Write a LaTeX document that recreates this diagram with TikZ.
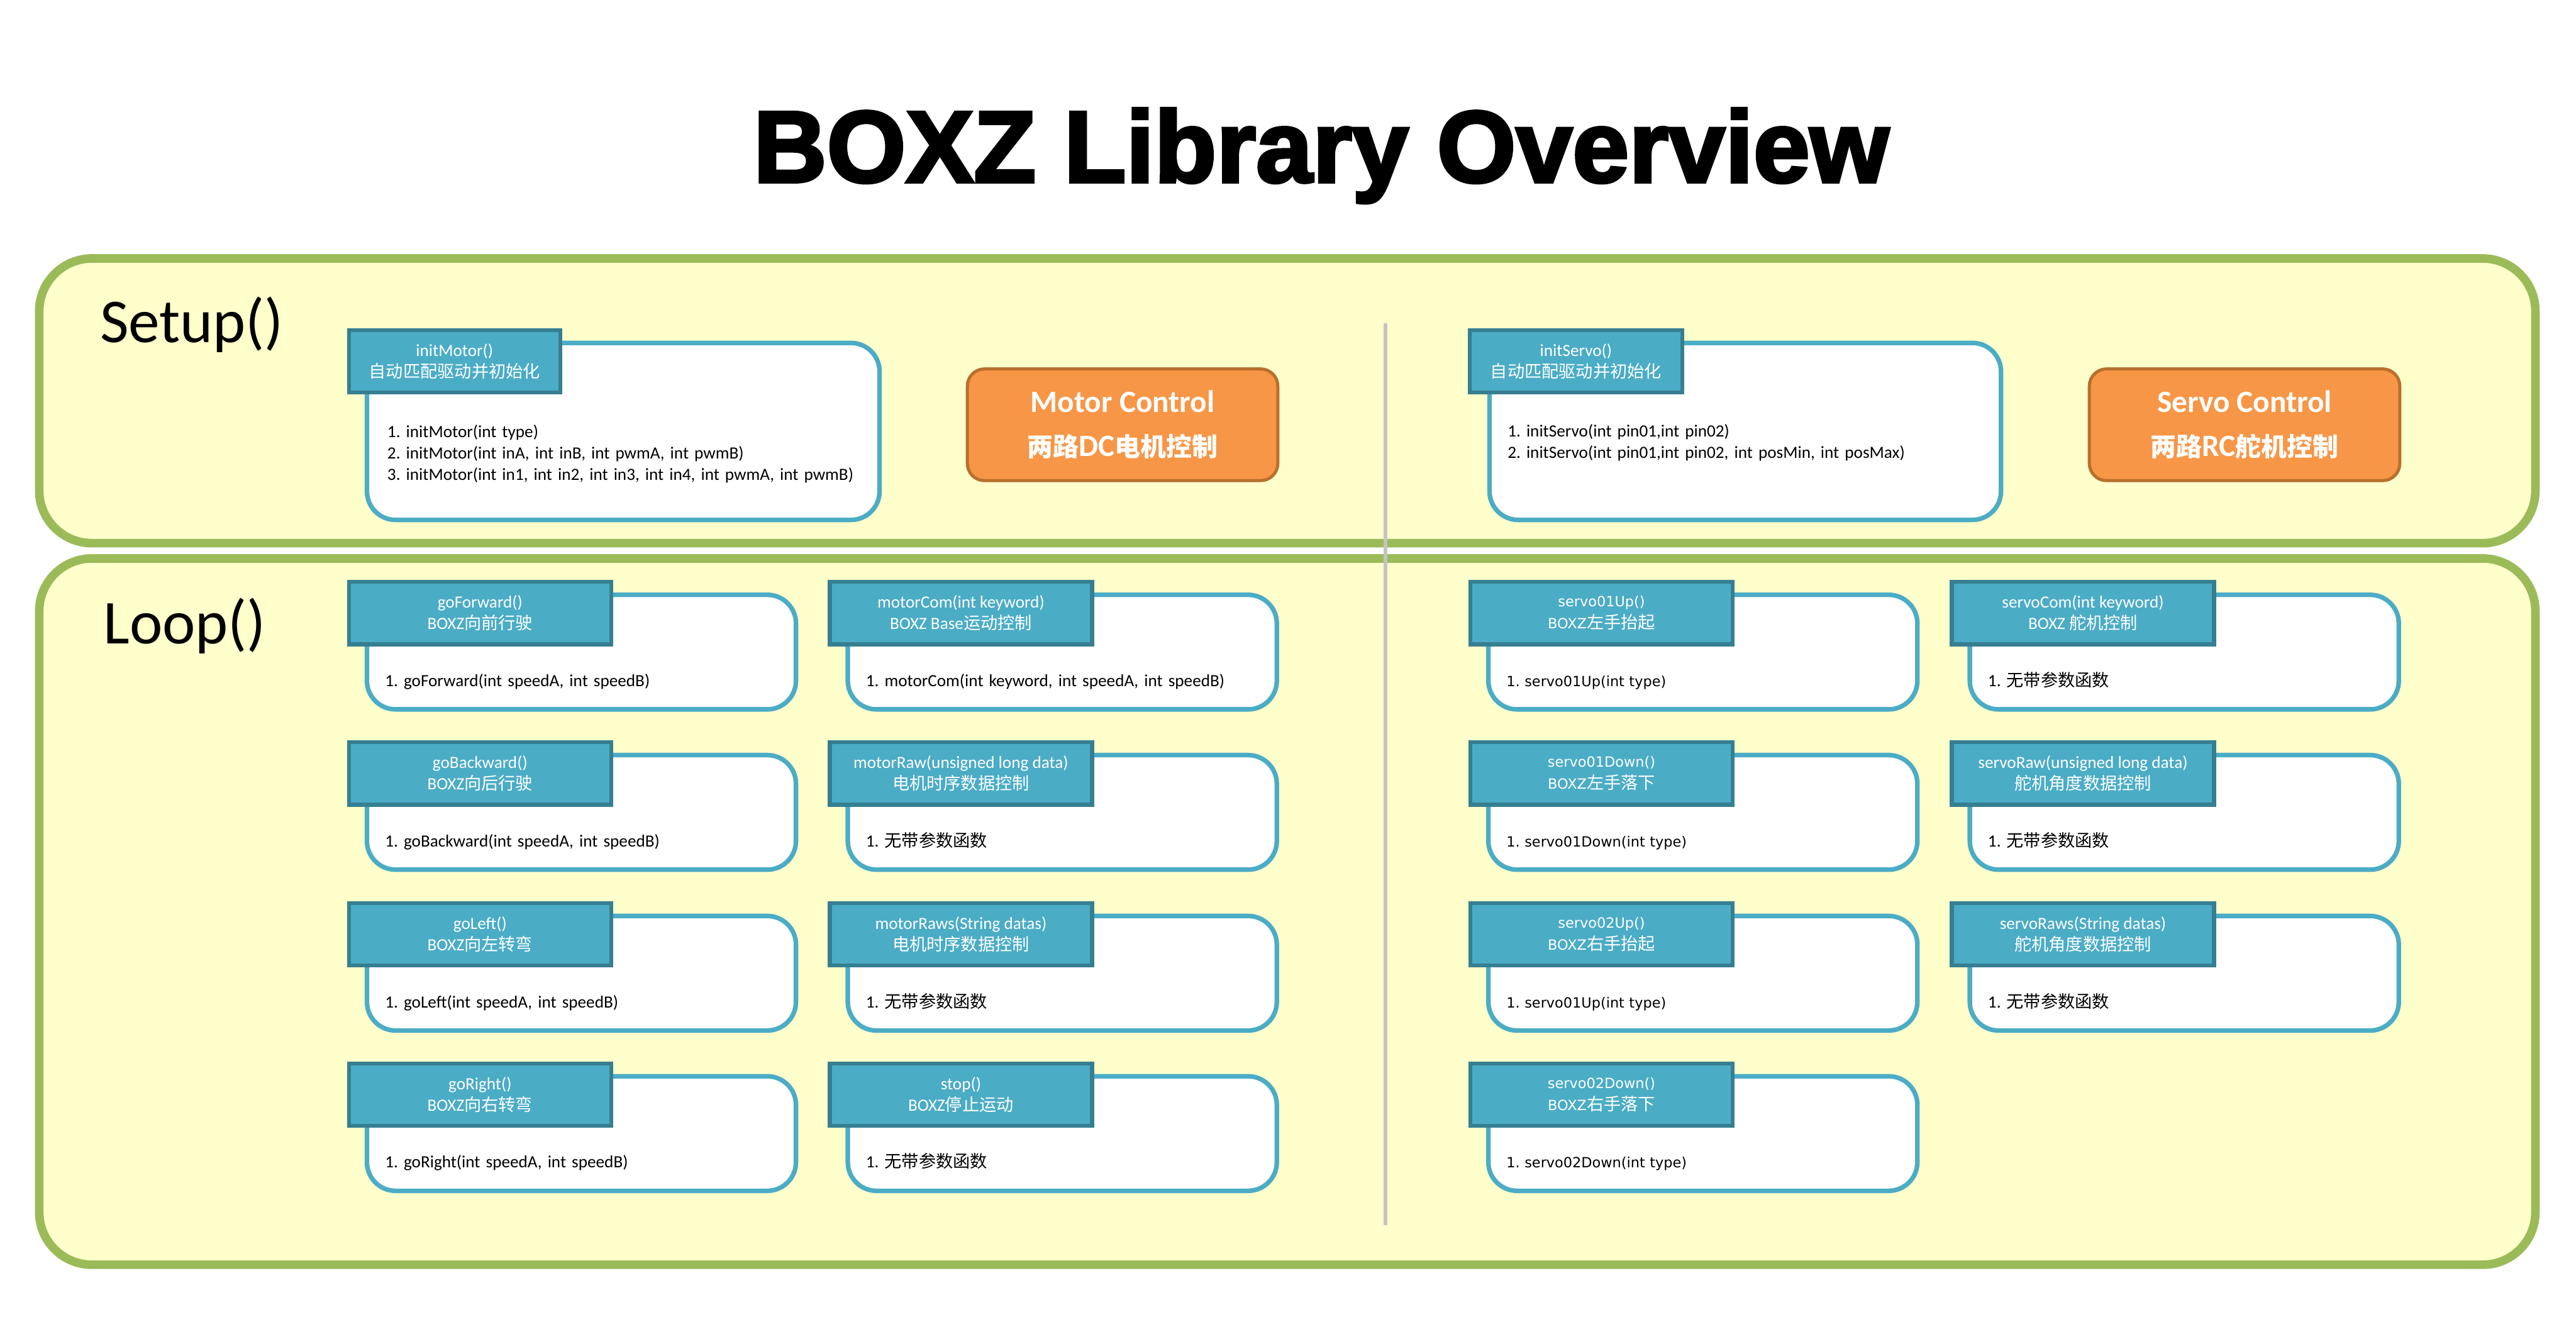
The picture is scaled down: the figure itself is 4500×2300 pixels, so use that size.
\documentclass[tikz,border=0pt]{standalone}
\usepackage{fontspec}
\setmainfont{Carlito}
\newfontfamily\cjk{Noto Sans CJK SC}
\newfontfamily\verd{DejaVu Sans}
\newfontfamily\titlefont{Liberation Sans}[BoldFeatures={FakeBold=3}]
\usetikzlibrary{positioning,calc}
\frenchspacing
\definecolor{panelfill}{HTML}{FFFFCC}
\definecolor{panelgreen}{HTML}{9BBB59}
\definecolor{headfill}{HTML}{4BACC6}
\definecolor{headline}{HTML}{357F91}
\definecolor{cardblue}{HTML}{4BACC6}
\definecolor{ctrlfill}{HTML}{F79646}
\definecolor{ctrlline}{HTML}{B8702E}
\definecolor{sepgray}{HTML}{C4C4C4}
\newcommand{\cn}[1]{{\cjk #1}}
\newcommand{\cnbig}[1]{{\cjk\fontsize{12.8}{22}\selectfont #1}}
\newcommand{\cnsm}[1]{{\cjk\fontsize{8.5}{11}\selectfont #1}}
% one function card of the loop part: name, header x, header y, header text, body text
\newcommand{\funccard}[6][]{%
  \node[card,anchor=north west] (#2) at (#3+31,#4+22) {};
  \node[head,#1,anchor=north west] (#2h) at (#3,#4) {#5};
  \node[body,#1,anchor=base west] (#2b) at (#3+66,#4+186) {#6};
}
\tikzset{
  panel/.style={draw=panelgreen,fill=panelfill,line width=0.15cm,rounded corners=0.92cm,minimum width=43.58cm,inner sep=0pt},
  card/.style={draw=cardblue,fill=white,line width=0.08cm,rounded corners=0.5cm,minimum width=7.49cm,minimum height=2cm,inner sep=0pt},
  head/.style={draw=headline,fill=headfill,line width=0.07cm,text=white,align=center,font=\fontsize{8.5}{10.6}\selectfont,
    minimum width=4.58cm,minimum height=1.09cm,inner sep=0pt},
  body/.style={text width=8.6cm,align=left,font=\fontsize{8.5}{10.6}\selectfont,inner sep=0pt},
  ctrl/.style={draw=ctrlline,fill=ctrlfill,line width=0.055cm,rounded corners=0.3cm,text=white,align=center,
    font=\bfseries\fontsize{15.4}{22}\selectfont,minimum width=5.42cm,minimum height=1.95cm},
  phase/.style={font=\fontsize{31}{37}\selectfont,anchor=base west,inner sep=0pt},
  wide/.style={font=\verd\fontsize{7}{11}\selectfont},
  sep/.style={draw=sepgray,line width=0.07cm},
}
\begin{document}
\begin{tikzpicture}[x=0.01cm,y=-0.01cm]
  \fill[white] (0,0) rectangle (4500,2300);
  \useasboundingbox (0,0) rectangle (4500,2300);
  % the two phases
  \node[panel,minimum height=4.97cm,anchor=north west] (setup) at (61,444) {};
  \node[panel,minimum height=12.33cm,anchor=north west] (loop) at (61,968) {};
  \coordinate (sepTop) at (2420,565);
  \coordinate (sepBot) at (2420,2140);
  \draw[sep] (sepTop) -- (sepBot);
  \node[font=\titlefont\bfseries\fontsize{50.5}{60}\selectfont,anchor=base,inner sep=0pt] (title) at (2308,318) {BOXZ Library Overview};
  \node[phase] (setupLbl) at (174,598) {Setup()};
  \node[phase] (loopLbl) at (180,1124) {Loop()};
  % setup
  \node[card,minimum width=8.95cm,minimum height=3.09cm,anchor=north west] (initMotor) at (637,595) {};
  \node[head,minimum width=3.69cm,anchor=north west] (initMotorh) at (606,573) {initMotor()\\\cn{自动匹配驱动并初始化}};
  \node[body,anchor=base west] (initMotorb) at (676,764) {1. initMotor(int type)\\2. initMotor(int inA, int inB, int pwmA, int pwmB)\\3. initMotor(int in1, int in2, int in3, int in4, int pwmA, int pwmB)};
  \node[card,minimum width=8.93cm,minimum height=3.09cm,anchor=north west] (initServo) at (2598,595) {};
  \node[head,minimum width=3.71cm,anchor=north west] (initServoh) at (2564,573) {initServo()\\\cn{自动匹配驱动并初始化}};
  \node[body,anchor=base west] (initServob) at (2633,763) {1. initServo(int pin01,int pin02)\\2. initServo(int pin01,int pin02, int posMin, int posMax)};
  \node[ctrl] (motorCtrl) at (1961,742) {Motor Control\\\cnbig{两路}DC\cnbig{电机控制}};
  \node[ctrl] (servoCtrl) at (3921,742) {Servo Control\\\cnbig{两路}RC\cnbig{舵机控制}};
  % loop, motor side
  \funccard{fwd}{606}{1013}{goForward()\\BOXZ\cn{向前行驶}}{1. goForward(int speedA, int speedB)}
  \funccard{bwd}{606}{1293}{goBackward()\\BOXZ\cn{向后行驶}}{1. goBackward(int speedA, int speedB)}
  \funccard{left}{606}{1574}{goLeft()\\BOXZ\cn{向左转弯}}{1. goLeft(int speedA, int speedB)}
  \funccard{right}{606}{1854}{goRight()\\BOXZ\cn{向右转弯}}{1. goRight(int speedA, int speedB)}
  \funccard{mcom}{1446}{1013}{motorCom(int keyword)\\BOXZ Base\cn{运动控制}}{1. motorCom(int keyword, int speedA, int speedB)}
  \funccard{mraw}{1446}{1293}{motorRaw(unsigned long data)\\\cn{电机时序数据控制}}{1. \cn{无带参数函数}}
  \funccard{mraws}{1446}{1574}{motorRaws(String datas)\\\cn{电机时序数据控制}}{1. \cn{无带参数函数}}
  \funccard{stop}{1446}{1854}{stop()\\BOXZ\cn{停止运动}}{1. \cn{无带参数函数}}
  % loop, servo side
  \funccard[wide]{s1up}{2565}{1013}{servo01Up()\\BOXZ\cnsm{左手抬起}}{1. servo01Up(int type)}
  \funccard[wide]{s1down}{2565}{1293}{servo01Down()\\BOXZ\cnsm{左手落下}}{1. servo01Down(int type)}
  \funccard[wide]{s2up}{2565}{1574}{servo02Up()\\BOXZ\cnsm{右手抬起}}{1. servo01Up(int type)}
  \funccard[wide]{s2down}{2565}{1854}{servo02Down()\\BOXZ\cnsm{右手落下}}{1. servo02Down(int type)}
  \funccard{scom}{3406}{1013}{servoCom(int keyword)\\BOXZ \cn{舵机控制}}{1. \cn{无带参数函数}}
  \funccard{sraw}{3406}{1293}{servoRaw(unsigned long data)\\\cn{舵机角度数据控制}}{1. \cn{无带参数函数}}
  \funccard{sraws}{3406}{1574}{servoRaws(String datas)\\\cn{舵机角度数据控制}}{1. \cn{无带参数函数}}
\end{tikzpicture}
\end{document}
